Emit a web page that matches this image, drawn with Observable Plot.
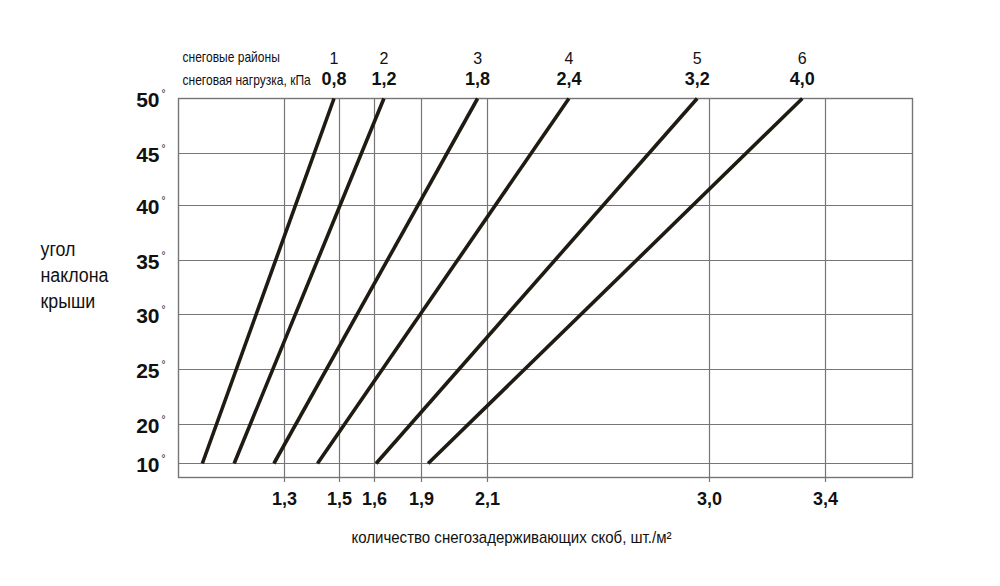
<!DOCTYPE html>
<html>
<head>
<meta charset="utf-8">
<script src="https://cdn.jsdelivr.net/npm/d3@7"></script>
<script src="https://cdn.jsdelivr.net/npm/@observablehq/plot@0.6"></script>
<style>
  html, body { margin: 0; padding: 0; background: #fff; }
  #chart { width: 1000px; height: 586px; }
</style>
</head>
<body>
<div id="chart"></div>
<script>
// ---- data ----
const districts = [1, 2, 3, 4, 5, 6];                 // снеговые районы
const loadLabels = ["0,8", "1,2", "1,8", "2,4", "3,2", "4,0"]; // снеговая нагрузка, кПа
const countAt10 = [0.99, 1.11, 1.26, 1.42, 1.61, 1.92]; // скоб/м² при 10°
const countAt50 = [1.48, 1.66, 2.07, 2.43, 2.95, 3.32]; // скоб/м² при 50°
const angleTicks = [10, 20, 25, 30, 35, 40, 45, 50];
const countTicks = [1.3, 1.5, 1.6, 1.9, 2.1, 3.0, 3.4];

const lines = districts.map((d, i) => ({
  district: d, load: loadLabels[i], c10: countAt10[i], c50: countAt50[i]
}));

const fmt = d => d3.format(".1f")(d).replace(".", ",");
const ink = "#111";
const lineInk = "#1f1a12";
const gridInk = "#767676";

const chart = Plot.plot({
  width: 1000,
  height: 586,
  marginLeft: 178,
  marginRight: 88,
  marginTop: 98,
  marginBottom: 109,
  style: { fontFamily: "'Liberation Sans', Arial, sans-serif", color: ink, background: "#fff" },
  x: {
    type: "linear",
    domain: [0.9, 1.3, 1.5, 1.6, 1.9, 2.1, 3.0, 3.4, 3.7],
    range: [178, 284, 339, 374, 421, 487, 709, 825, 912],
    axis: null
  },
  y: {
    type: "linear",
    domain: [10, 20, 25, 30, 35, 40, 45, 50],
    range: [463, 424, 369, 314, 260, 205, 153, 98],
    axis: null
  },
  marks: [
    Plot.ruleY(angleTicks, { stroke: gridInk, strokeWidth: 1.2 }),
    Plot.ruleX(countTicks, { stroke: gridInk, strokeWidth: 1.2, insetBottom: -5 }),
    Plot.frame({ stroke: gridInk, strokeWidth: 1.4 }),
    Plot.link(lines, {
      x1: "c10", y1: () => 10, x2: "c50", y2: () => 50,
      stroke: lineInk, strokeWidth: 3.6, strokeLinecap: "butt"
    }),
    // bottom tick labels
    Plot.text(countTicks, {
      x: d => d, frameAnchor: "bottom", text: fmt, dy: 22,
      fontSize: 18, fontWeight: "bold", fill: ink, lineAnchor: "middle"
    }),
    // left tick labels with degree sign
    Plot.text(angleTicks, {
      y: d => d, frameAnchor: "left", text: d => String(d), dx: -19, dy: 2,
      textAnchor: "end", fontSize: 21, fontWeight: "bold", fill: ink, lineAnchor: "middle"
    }),
    Plot.text(angleTicks, {
      y: d => d, frameAnchor: "left", text: () => "°", dx: -17, dy: -5,
      textAnchor: "start", fontSize: 10, fill: ink, lineAnchor: "middle"
    }),
    // top labels: district number and load
    Plot.text(lines, {
      x: "c50", y: () => 50, text: d => String(d.district), dy: -40,
      fontSize: 16, fill: ink, lineAnchor: "middle"
    }),
    Plot.text(lines, {
      x: "c50", y: () => 50, text: "load", dy: -19,
      fontSize: 18, fontWeight: "bold", fill: ink, lineAnchor: "middle"
    }),
    Plot.text(["снеговые районы"], {
      frameAnchor: "top-left", dx: 4, dy: -41, textAnchor: "start", lineAnchor: "middle",
      fontSize: 14, fill: ink, className: "narrow86"
    }),
    Plot.text(["снеговая нагрузка, кПа"], {
      frameAnchor: "top-left", dx: 4, dy: -18, textAnchor: "start", lineAnchor: "middle",
      fontSize: 14, fill: ink, className: "narrow86"
    }),
    // axis titles
    Plot.text(["угол\nнаклона\nкрыши"], {
      frameAnchor: "left", dx: -138, dy: -14, textAnchor: "start", lineAnchor: "middle",
      lineHeight: 1.3, fontSize: 20, fill: ink, className: "narrow89"
    }),
    Plot.text(["количество снегозадерживающих скоб, шт./м²"], {
      frameAnchor: "bottom", dx: -34, dy: 60, lineAnchor: "middle",
      fontSize: 16, fill: ink, className: "narrow94"
    })
  ]
});

// condense a few labels horizontally (the original uses a narrow face)
[["narrow86", 0.86], ["narrow89", 0.89], ["narrow94", 0.94]].forEach(([cls, s]) => {
  chart.querySelectorAll("g." + cls + " text").forEach(t => {
    const tr = t.getAttribute("transform") || "";
    t.setAttribute("transform", tr + ` scale(${s},1)`);
  });
});
document.getElementById("chart").appendChild(chart);
</script>
</body>
</html>
